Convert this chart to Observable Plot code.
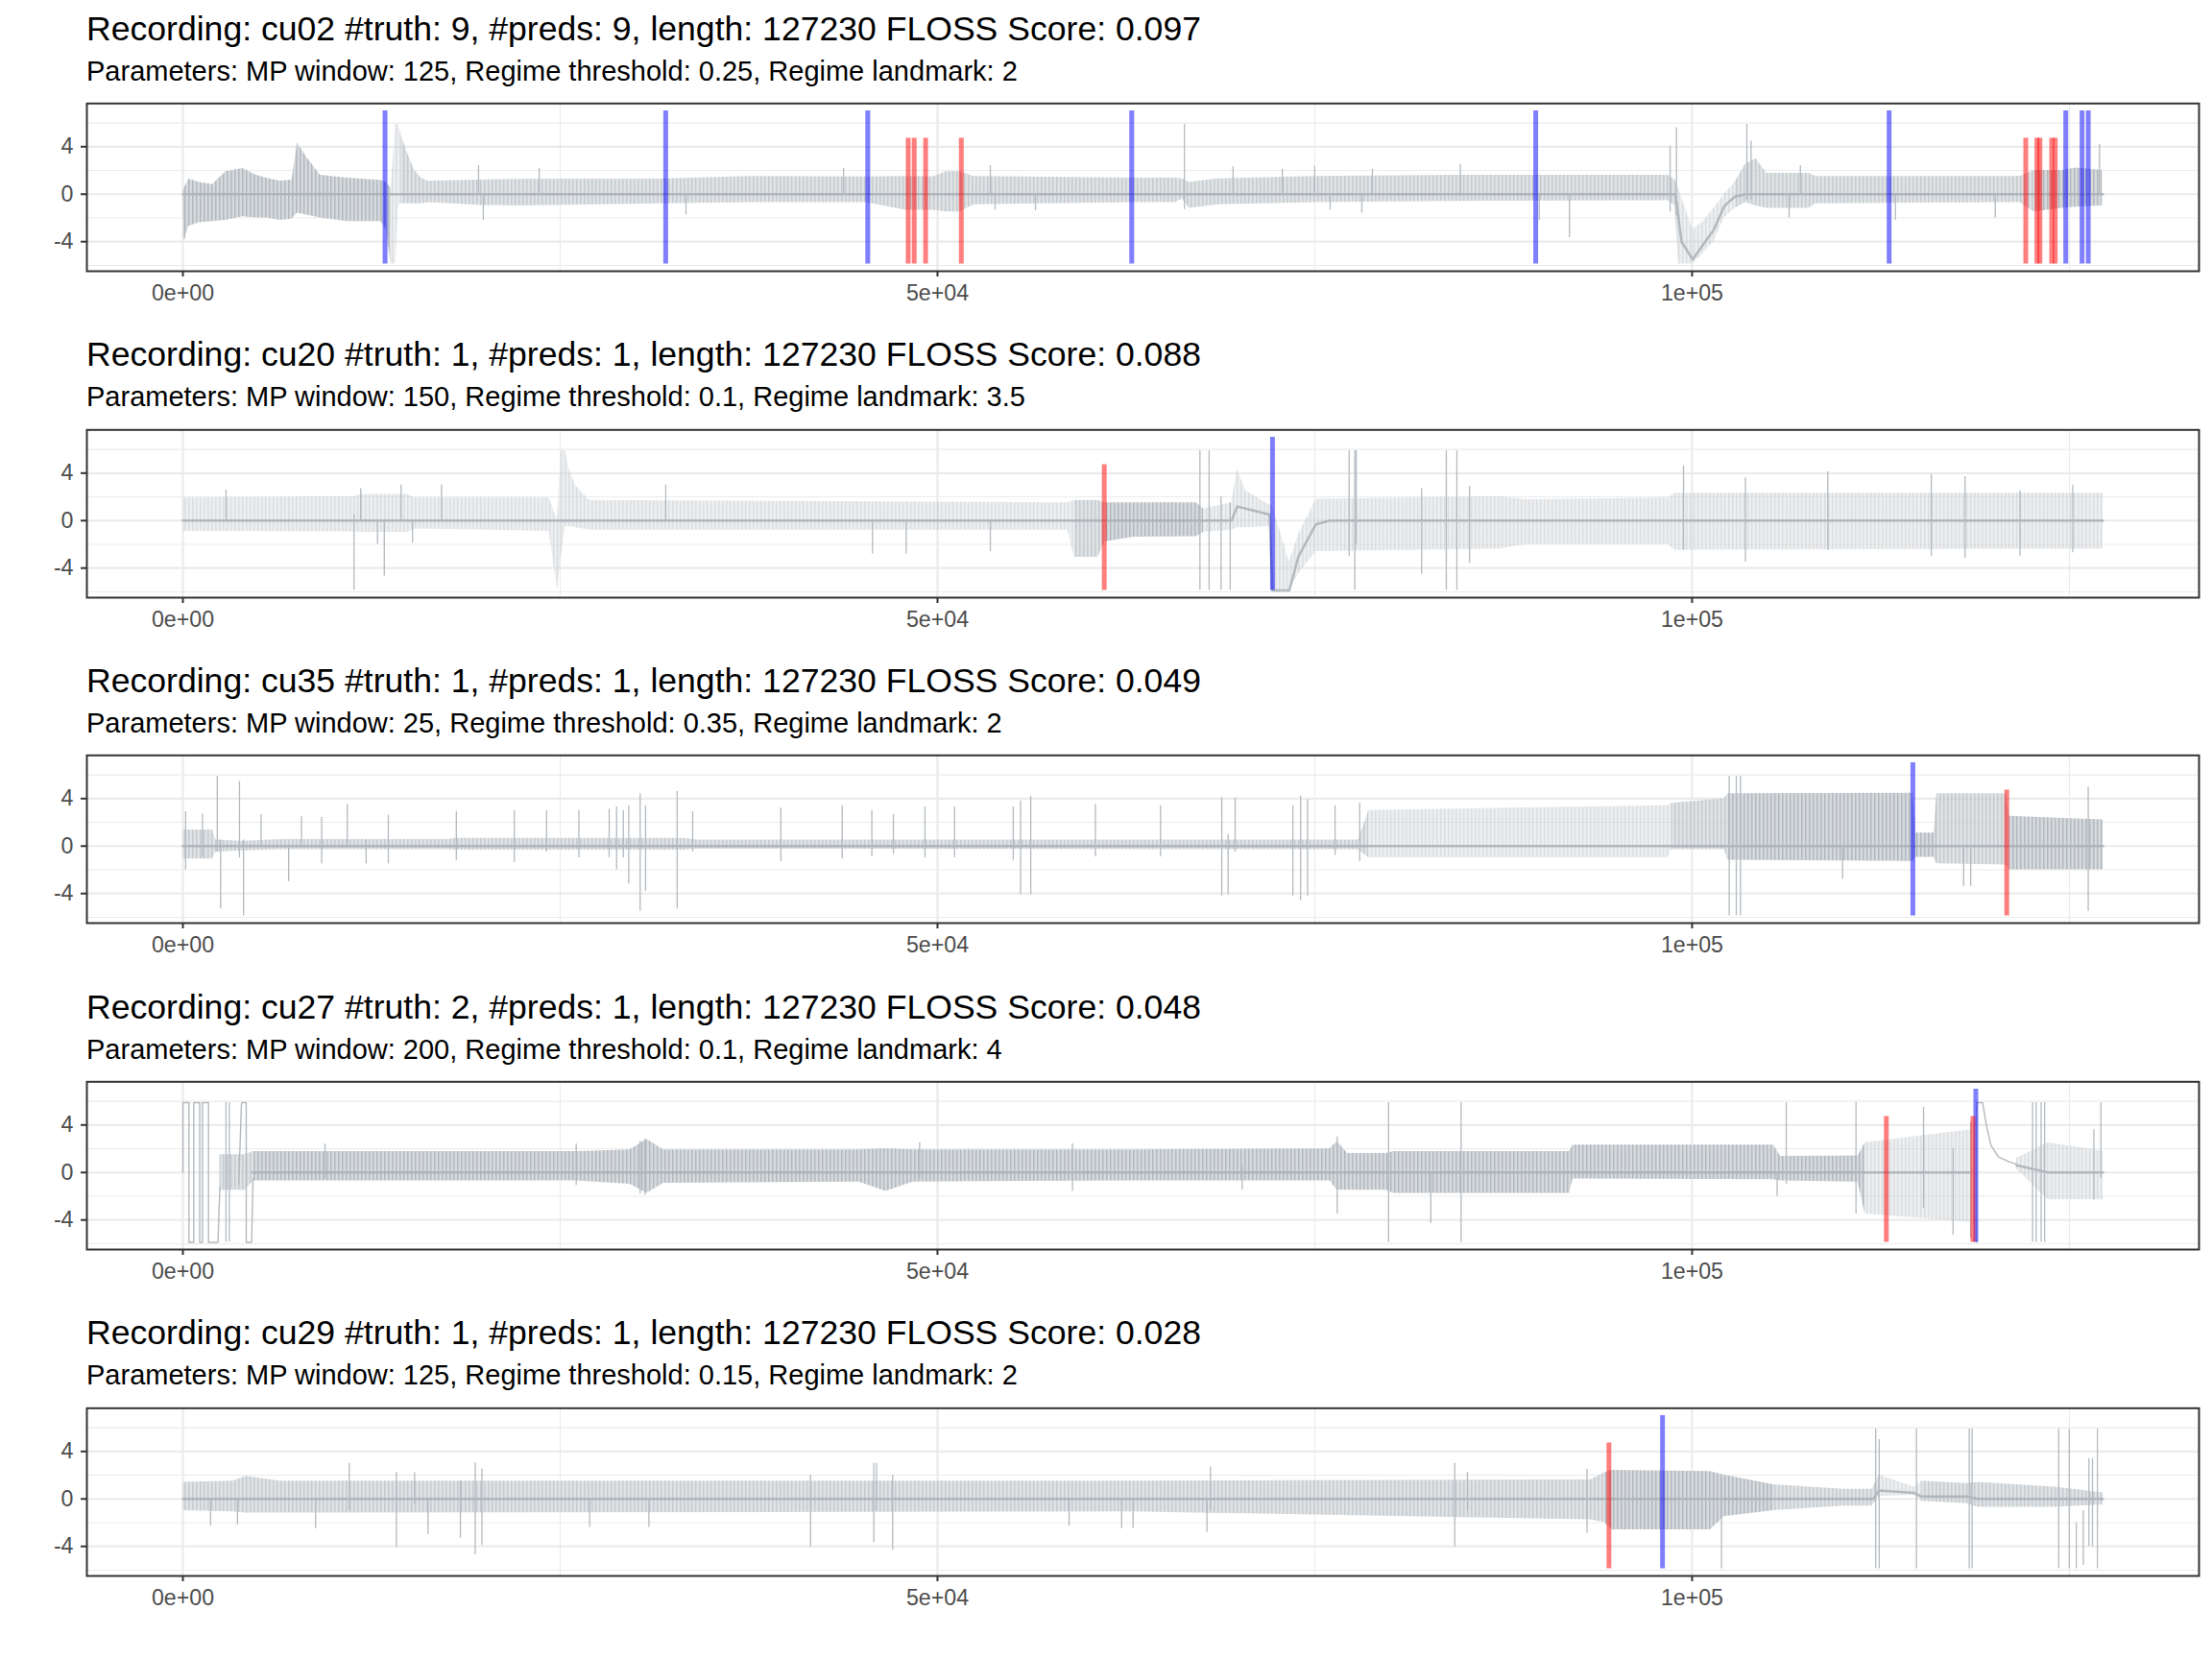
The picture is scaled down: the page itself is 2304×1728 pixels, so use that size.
<!DOCTYPE html>
<html><head><meta charset="utf-8">
<script src="https://cdn.jsdelivr.net/npm/d3@7"></script>
<script src="https://cdn.jsdelivr.net/npm/@observablehq/plot@0.6"></script>
<style>
body{margin:0;background:#fff;}
#root{position:relative;width:2304px;height:1728px;font-family:"Liberation Sans",Arial,Helvetica,sans-serif;background:#fff;overflow:hidden;}
.block{position:absolute;left:0;width:2304px;height:340px;}
.title{position:absolute;left:90px;top:12.6px;font-size:35.6px;line-height:1;color:#000;white-space:nowrap;}
.sub{position:absolute;left:90px;top:59.5px;font-size:29px;line-height:1;color:#000;white-space:nowrap;}
.chart{position:absolute;left:0;top:100px;}
</style></head><body>
<svg width="0" height="0" style="position:absolute">
  <defs>
    <pattern id="hatch" patternUnits="userSpaceOnUse" width="4" height="8">
      <rect x="0" y="0" width="4" height="8" fill="#d6dadd"></rect>
      <rect x="0" y="0" width="1.5" height="8" fill="#b2b9bf"></rect>
    </pattern>
  </defs>
</svg>
<div id="root"></div>
<script>
// ---------- shared axis data ----------
const xTicks = [0, 50000, 100000];
const xTickLabels = ["0e+00", "5e+04", "1e+05"];
const xMinor = [25000, 75000, 125000];
const yTicks = [-4, 0, 4];
const yTickLabels = ["-4", "0", "4"];
const yMinor = [-6, -2, 2, 6];
const seriesLength = 127230;

// ---------- panel texts ----------
const recordings = ["cu02", "cu20", "cu35", "cu27", "cu29"];
const nTruth = [9, 1, 1, 2, 1];
const nPreds = [9, 1, 1, 1, 1];
const flossScores = ["0.097", "0.088", "0.049", "0.048", "0.028"];
const mpWindows = [125, 150, 25, 200, 125];
const regimeThresholds = ["0.25", "0.1", "0.35", "0.1", "0.15"];
const regimeLandmarks = ["2", "3.5", "2", "4", "2"];

// ---------- truth (red) and predicted (blue) change points ----------
const cu02_truth = [48060, 48457, 49214, 51580, 122110, 122850, 123050, 123830, 124060];
const cu02_preds = [13394, 31991, 45379, 62870, 89640, 113057, 124760, 125840, 126250];
const cu20_truth = [61050];
const cu20_preds = [72200];
const cu35_truth = [120850];
const cu35_preds = [114630];
const cu27_truth = [112870, 118610];
const cu27_preds = [118800];
const cu29_truth = [94490];
const cu29_preds = [98040];

// ---------- signal envelopes: [x, low, high, density] ----------
const cu02_env = [[3,-0.3,0.3,3],[92,-3.8,0.5,3],[404,-2.7,1.27,3],[1074,-2.4,1.0,3],[1966,-2.3,0.8,3],[2858,-2.2,1.9,3],[3974,-1.9,2.16,3],[4866,-2.0,1.6,3],[5536,-2.0,1.35,3],[6428,-2.2,1.1,3],[7231,-2.1,1.2,3],[7588,-1.6,4.3,3],[8213,-1.75,3.1,3],[9105,-2.0,1.6,3],[10890,-2.3,1.35,3],[13121,-2.3,1.16,3],[13478,-3.0,1.0,3],[13790,-5.88,0.5,1],[14103,-5.88,5.88,1],[14281,-1.0,5.88,1],[14460,-0.8,5.0,2],[14906,-0.8,3.4,2],[15352,-0.8,2.0,2],[15798,-0.8,1.35,2],[16244,-0.7,1.1,2],[19814,-0.95,1.2,2],[22491,-1.0,1.25,2],[31861,-0.8,1.27,2],[37662,-0.7,1.5,2],[45247,-0.7,1.45,2],[47925,-1.35,1.5,2],[49709,-1.35,1.45,2],[50602,-1.5,1.9,2],[51494,-1.5,1.9,2],[52385,-0.9,1.5,2],[63006,-0.7,1.35,2],[65758,-0.7,1.35,2],[66224,-0.4,1.3,2],[66691,-1.2,1.0,2],[68556,-0.9,1.3,2],[75086,-0.7,1.5,2],[84414,-0.6,1.6,2],[98406,-0.55,1.6,2],[98872,-1.0,1.2,2],[99106,-5.88,0.5,1],[100038,-5.88,-3.0,1],[100738,-5.0,-2.3,1],[101438,-4.0,-1.2,1],[102137,-2.0,0.0,1],[102836,-1.2,1.0,2],[103536,-0.7,2.5,2],[104236,-1.0,3.0,2],[104936,-1.2,1.75,2],[107734,-1.2,1.75,2],[108200,-0.8,1.5,2],[121726,-0.7,1.5,2],[122659,-1.5,2.0,3],[124524,-1.2,2.0,3],[125457,-1.1,2.2,3],[127183,-1.0,2.0,3]];
const cu20_env = [[3,-0.9,1.9,1],[11336,-0.95,2.0,1],[11782,-1.0,2.2,1],[14906,-1.0,2.2,1],[15352,-0.7,1.9,1],[24276,-0.9,1.9,1],[24811,-5.88,0,1],[25079,-3,5.88,1],[25347,-0.5,5.88,1],[25615,-0.5,4.2,1],[26061,-0.6,2.9,1],[26953,-0.8,1.7,1],[58633,-0.8,1.5,1],[59079,-3.1,1.7,2],[60641,-3.1,1.7,2],[61088,-1.8,1.5,3],[63006,-1.4,1.5,3],[67157,-1.35,1.5,3],[67624,-1.0,1.0,1],[69489,-0.8,1.5,1],[69862,-0.6,4.3,1],[70422,-0.6,2.5,1],[72008,-0.5,1.3,1],[72195,-5.88,1.3,1],[73314,-5.88,-3.5,1],[73920,-4.5,-1.2,1],[75086,-2.6,1.8,1],[87212,-2.4,2.0,1],[89078,-2.0,1.75,1],[98406,-2.0,1.9,1],[98872,-2.5,2.3,1],[127230,-2.4,2.3,1]];
const cu35_env = [[3,-1.1,1.35,2],[1966,-1.1,1.35,2],[2189,-0.5,0.5,2],[3974,-0.4,0.4,2],[6428,-0.3,0.55,2],[17583,-0.3,0.55,2],[18029,-0.35,0.65,2],[33200,-0.35,0.65,2],[34092,-0.27,0.5,2],[77884,-0.3,0.5,2],[78584,-1.0,3.0,1],[98406,-1.0,3.4,1],[98640,-0.3,3.6,2],[102137,-0.3,4.0,2],[102370,-1.2,4.4,3],[114637,-1.3,4.45,3],[114823,-0.95,1.1,3],[116036,-0.95,1.1,3],[116220,-1.5,4.4,2],[120790,-1.6,4.4,2],[121026,-2.0,2.5,3],[127230,-2.0,2.2,3]];
const cu27_env = [[2450,-1.5,1.5,2],[4100,-1.5,1.5,2],[4700,-0.7,1.75,3],[26061,-0.7,1.75,3],[29630,-1.0,1.9,3],[30746,-1.75,2.8,3],[31861,-0.9,1.9,3],[44801,-0.8,1.9,3],[46586,-1.6,2.0,3],[48371,-0.8,1.9,3],[63006,-0.7,1.9,3],[76019,-0.7,2.0,3],[76485,-1.5,2.6,3],[77185,-1.5,1.6,3],[79750,-1.5,1.6,3],[80216,-1.75,1.75,3],[91876,-1.75,1.75,3],[92110,-0.55,2.3,3],[105402,-0.6,2.3,3],[105870,-0.7,1.35,3],[110999,-0.8,1.4,3],[111465,-3.5,2.5,1],[118461,-4.2,3.6,1],[118500,0,0,0],[121500,0.3,1.2,1],[123592,-2.3,2.5,1],[127230,-2.3,1.8,1]];
const cu29_env = [[3,-1.0,1.4,2],[3305,-1.1,1.5,2],[4197,-1.2,1.9,2],[6428,-1.2,1.5,2],[63006,-1.1,1.5,2],[93276,-1.75,1.6,2],[94208,-2.0,2.2,3],[94675,-2.6,2.4,3],[101204,-2.6,2.3,3],[102137,-1.5,2.0,3],[105402,-1.0,1.2,2],[110066,-0.6,0.8,2],[111932,-0.6,0.8,2],[112398,0.2,2.0,1],[114730,0.3,1.0,1],[115196,-0.2,1.5,2],[118228,-0.4,1.3,2],[118928,-0.7,1.4,2],[124058,-0.7,1.0,2],[127230,-0.5,0.5,1]];

// ---------- signal baseline (dark core) [x, y] ----------
const cu02_base = [[0,0],[98900,0],[99300,-4],[100038,-5.5],[101438,-3.0],[102137,-1.0],[102836,-0.2],[103536,0],[127230,0]];
const cu20_base = [[0,0],[69489,0],[69862,1.2],[72008,0.5],[72195,-5.88],[73314,-5.88],[73920,-3],[75086,-0.3],[76000,0],[127230,0]];
const cu35_base = [[0,0],[127230,0]];
const cu27_base = [[4600,0],[118461,0],[118500,NaN],[121500,0.6],[123592,0],[127230,0]];
const cu29_base = [[0,0],[112000,0],[112398,0.7],[114730,0.5],[115196,0.2],[118228,0.2],[118928,0],[127230,0]];

// ---------- isolated excursions [x, low, high] ----------
const cu02_spikes = [[100,-3.8,0.3],[19591,0,2.4],[19903,-2.2,0],[23607,0,2.16],[33334,-1.75,0],[43775,0,2.16],[53502,0,2.4],[53815,-1.35,0],[56492,-1.4,0],[66364,-1.3,5.88],[69582,0,2.3],[72847,0,2.1],[74993,0,2.35],[76019,-1.35,0],[78118,-1.6,0],[78817,0,2.1],[84647,0,2.5],[89871,-2.2,0],[91876,-3.65,0],[98546,-1.5,4.05],[98966,-1.8,5.6],[103630,-0.5,5.88],[103910,-0.5,4.46],[106428,-2.0,0],[107174,0,2.4],[113470,-2.2,0],[120090,-2.0,0],[126995,0,4.2]];
const cu20_spikes = [[2858,0,2.56],[11336,-5.88,0.5],[11782,0,2.7],[12898,-2.0,0],[13344,-4.7,0],[14460,0,3.0],[15218,-1.9,0],[17137,0,3.0],[31995,0,3.0],[45694,-2.8,0],[47925,-2.8,0],[53502,-2.6,0],[67390,-5.88,5.88],[67997,-5.88,5.88],[68790,-5.88,2.0],[69396,-5.88,1.5],[77278,-3,5.88],[77651,-5.88,5.88],[77745,-2,5.88],[82082,-4.5,2.7],[83715,-5.88,5.88],[84414,-5.88,5.88],[85254,-3.6,2.9],[99432,-2.5,4.6],[103536,-3.5,3.6],[108993,-2.5,4.1],[115849,-3.0,3.9],[118088,-3.2,3.7],[121726,-3.0,2.5],[125224,-2.7,3.0]];
const cu35_spikes = [[181,-2.0,2.9],[1297,-1,2.7],[2278,-0.5,5.88],[2501,-5.3,0.5],[3751,-1,5.45],[4019,-5.88,0.5],[5179,0,2.65],[7008,-3.0,0],[7856,0,2.5],[9194,-1.5,2.4],[10890,0,3.5],[12139,-1.5,0.5],[13612,-1.5,2.6],[18118,-1.2,2.9],[21956,-1.4,3.0],[24100,-0.5,3.0],[26240,-1.0,3.0],[28246,-1.0,3.1],[28738,-2.0,3.3],[29184,-1.0,3.0],[29541,-3.2,3.4],[30300,-5.5,4.4],[30657,-3.8,3.4],[32754,-5.3,4.6],[33780,-0.5,2.9],[39625,-1.3,3.2],[43686,-1.1,3.4],[45650,-0.9,3.0],[47077,-0.7,2.65],[49170,-1.0,3.3],[51133,-1.0,3.3],[55021,-1.2,3.3],[55510,-4.1,3.8],[56180,-4.1,4.2],[60463,-0.9,3.5],[64779,-0.9,3.4],[68836,-4.2,4.1],[69256,-4.1,1.0],[69722,-0.5,4.05],[73547,-4.2,3.4],[74060,-4.6,4.2],[74526,-4.2,3.9],[76345,-0.8,3.4],[77978,-1.3,3.6],[102463,-5.88,5.88],[102929,-5.88,5.88],[103209,-5.88,5.88],[109973,-2.8,0],[117995,-3.4,0],[118461,-3.4,0],[126250,-5.5,4.95]];
const cu27_spikes = [[2858,-5.88,5.88],[3080,-5.88,5.88],[9418,-0.5,2.4],[26061,-1.1,2.4],[30300,-1.8,2.6],[30612,-1.9,2.8],[48817,-0.5,2.5],[58945,-1.6,2.4],[70189,-1.5,0.5],[76485,-3.5,3.0],[79890,-5.88,5.88],[82688,-4.3,0],[84694,-5.88,5.88],[105635,-2.0,0],[106240,-1,5.88],[110860,-3.5,5.88],[115337,-3.0,5.5],[117296,-5.3,2.0],[118461,-5.5,4.2],[122564,-5.88,5.88],[122800,-5.88,5.88],[123130,-5.88,5.88],[123360,-5.88,5.88],[126623,-2.3,3.6],[127090,-0.5,5.88]];
const cu29_spikes = [[1832,-2.3,0],[3617,-2.2,0],[8793,-2.5,0],[11024,-1,3.0],[14147,-4.1,2.25],[15352,-0.5,2.2],[16244,-3.0,0],[18386,-3.3,1.5],[19368,-4.7,3.05],[19814,-3.9,2.5],[26953,-2.4,0],[30880,-2.4,0],[41587,-4.05,2.0],[45781,-3.65,3.0],[45960,-1,3.0],[47030,-4.3,2.0],[58719,-2.3,0],[62200,-2.5,0],[62960,-2.5,0],[67857,-2.8,0],[68090,-1,2.7],[84274,-4.05,3.0],[85114,-1,2.25],[93042,-2.9,2.5],[101950,-5.88,1.5],[112165,-5.88,5.88],[112398,-5.88,5.0],[114870,-5.88,5.88],[118368,-5.88,5.88],[118554,-5.88,5.88],[124290,-5.88,5.88],[124990,-5.88,5.88],[125457,-5.88,-2],[125923,-5.6,-1],[126296,-4,3.4],[126530,-4,3.4],[126856,-5.88,5.88]];

// ---------- traced polylines [segment, x, y] ----------
const cu02_trace = [];
const cu20_trace = [];
const cu35_trace = [];
const cu27_trace = [[0,3,0],[0,3,5.88],[0,404,5.88],[0,404,-5.88],[0,717,-5.88],[0,717,5.88],[0,1118,5.88],[0,1118,-5.88],[0,1297,-5.88],[0,1297,5.88],[0,1698,5.88],[0,1698,-5.88],[0,2323,-5.88],[0,2450,-1.2],[1,3700,-1],[1,3885,5.88],[1,4197,5.88],[1,4197,-5.88],[1,4554,-5.88],[1,4650,-0.5],[2,118850,-5.88],[2,118850,5.88],[2,119250,5.88],[2,119500,4.0],[2,119800,2.3],[2,120300,1.3],[2,121000,0.9],[2,121500,0.7]];
const cu29_trace = [];

const panels = [
  {env: cu02_env, base: cu02_base, spikes: cu02_spikes, trace: cu02_trace, truth: cu02_truth, preds: cu02_preds},
  {env: cu20_env, base: cu20_base, spikes: cu20_spikes, trace: cu20_trace, truth: cu20_truth, preds: cu20_preds},
  {env: cu35_env, base: cu35_base, spikes: cu35_spikes, trace: cu35_trace, truth: cu35_truth, preds: cu35_preds},
  {env: cu27_env, base: cu27_base, spikes: cu27_spikes, trace: cu27_trace, truth: cu27_truth, preds: cu27_preds},
  {env: cu29_env, base: cu29_base, spikes: cu29_spikes, trace: cu29_trace, truth: cu29_truth, preds: cu29_preds}
];

// ---------- styling ----------
const FONT = '"Liberation Sans", Arial, Helvetica, sans-serif';
const SIG = "#b3bac0";
const SHADE = {1: 0.45, 2: 0.75, 3: 1.0};
const BLOCK_H = 339.7;

function segments(env) {
  const segs = []; let cur = null;
  for (const k of env) {
    const lvl = k[3];
    if (!cur || cur.lvl !== lvl) {
      if (cur && cur.lvl && lvl) cur.pts.push(k);
      cur = {lvl, pts: [k]}; segs.push(cur);
    } else cur.pts.push(k);
  }
  return segs.filter(s => s.lvl);
}

const root = document.getElementById("root");
panels.forEach((p, i) => {
  const block = document.createElement("div");
  block.className = "block";
  block.style.top = (i * BLOCK_H) + "px";
  const t = document.createElement("div");
  t.className = "title";
  t.textContent = `Recording: ${recordings[i]} #truth: ${nTruth[i]}, #preds: ${nPreds[i]}, length: ${seriesLength} FLOSS Score: ${flossScores[i]}`;
  const s = document.createElement("div");
  s.className = "sub";
  s.textContent = `Parameters: MP window: ${mpWindows[i]}, Regime threshold: ${regimeThresholds[i]}, Regime landmark: ${regimeLandmarks[i]}`;
  block.appendChild(t); block.appendChild(s);

  const areaMarks = segments(p.env).map(seg =>
    Plot.areaY(seg.pts, {x: d => d[0], y1: d => d[1], y2: d => d[2], fill: "url(#hatch)", fillOpacity: SHADE[seg.lvl], curve: "linear"}));

  const chart = Plot.plot({
    width: 2304, height: 232,
    marginTop: 7.3, marginBottom: 50, marginLeft: 90, marginRight: 14,
    x: {domain: [-0.05 * seriesLength, 1.05 * seriesLength]},
    y: {domain: [-6.49, 7.64]},
    style: {fontFamily: FONT, background: "white", overflow: "visible"},
    marks: [
      Plot.gridX(xMinor, {stroke: "#ebebeb", strokeOpacity: 1, strokeWidth: 1.1}),
      Plot.gridY(yMinor, {stroke: "#ebebeb", strokeOpacity: 1, strokeWidth: 1.1}),
      Plot.gridX(xTicks, {stroke: "#ebebeb", strokeOpacity: 1, strokeWidth: 2.2}),
      Plot.gridY(yTicks, {stroke: "#ebebeb", strokeOpacity: 1, strokeWidth: 2.2}),
      ...areaMarks,
      Plot.line(p.base, {x: d => d[0], y: d => d[1], stroke: "#a9b0b6", strokeWidth: 2.5, strokeOpacity: 0.85}),
      Plot.ruleX(p.spikes, {x: d => d[0], y1: d => d[1], y2: d => d[2], stroke: SIG, strokeWidth: 1.3}),
      Plot.line(p.trace, {x: d => d[1], y: d => d[2], z: d => d[0], stroke: SIG, strokeWidth: 1.4}),
      Plot.ruleX(p.preds, {x: d => d, y1: -5.88, y2: 7.02, stroke: "#0000ff", strokeOpacity: 0.5, strokeWidth: 5}),
      Plot.ruleX(p.truth, {x: d => d, y1: -5.88, y2: 4.72, stroke: "#ff0000", strokeOpacity: 0.5, strokeWidth: 5}),
      Plot.frame({stroke: "#333333", strokeWidth: 2}),
      Plot.axisY(yTicks, {tickSize: 6, tickPadding: 8, fontSize: 23.2, stroke: "#333333", strokeWidth: 2, fill: "#4d4d4d", label: null,
        tickFormat: d => yTickLabels[yTicks.indexOf(d)]}),
      Plot.axisX(xTicks, {tickSize: 6, tickPadding: 8, fontSize: 23.2, stroke: "#333333", strokeWidth: 2, fill: "#4d4d4d", label: null,
        tickFormat: d => xTickLabels[xTicks.indexOf(d)]})
    ]
  });
  const wrap = document.createElement("div");
  wrap.className = "chart";
  wrap.appendChild(chart);
  block.appendChild(wrap);
  root.appendChild(block);
});
</script></body></html>
